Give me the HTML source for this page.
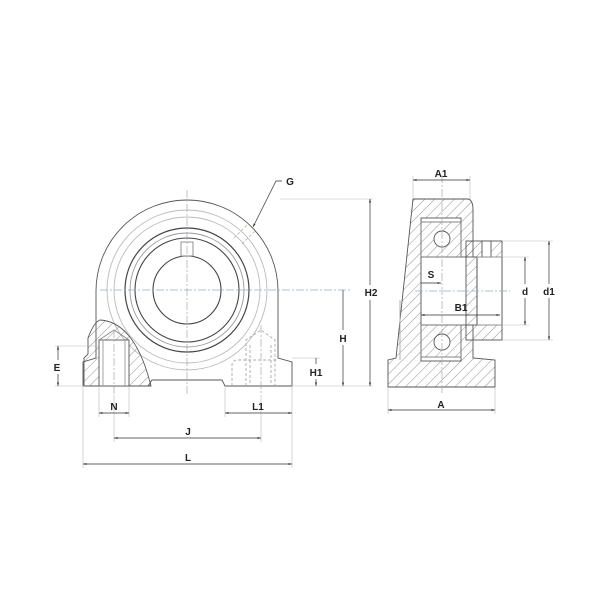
<!DOCTYPE html>
<html><head><meta charset="utf-8"><style>
html,body{margin:0;padding:0;background:#fff;}
svg{display:block;}
text{font-family:"Liberation Sans",sans-serif;font-weight:bold;font-size:10px;fill:#222;text-anchor:middle;}
</style></head><body>
<svg width="600" height="600" viewBox="0 0 600 600" xmlns="http://www.w3.org/2000/svg">
<defs>
<pattern id="h" width="7" height="7" patternUnits="userSpaceOnUse" patternTransform="rotate(45)">
<line x1="0" y1="0" x2="0" y2="7" stroke="#777" stroke-width="0.8"/>
</pattern>
<marker id="a" markerWidth="6" markerHeight="6" refX="5" refY="3" orient="auto-start-reverse"><path d="M0,1.5 L5,3 L0,4.5z" fill="#333"/></marker>
</defs>
<g fill="none" stroke="#555" stroke-width="0.9">
<!-- LEFT VIEW housing -->
<path d="M96,358 L96,291 A91,91 0 0 1 278,291 L278,358 L292,362 L292,386 L225,386 L222,380 L152,380 L148,386 L83,386 L83,362 Z" fill="#fff"/>
<circle cx="187" cy="290" r="80" stroke="#bbb"/>
<circle cx="187" cy="290" r="73" stroke="#bbb"/>
<circle cx="187" cy="290" r="62" stroke="#444" stroke-width="1.2"/>
<circle cx="187" cy="290" r="57" stroke="#999"/>
<circle cx="187" cy="290" r="52" stroke="#444" stroke-width="1.1"/>
<circle cx="187" cy="290" r="34" stroke="#444" stroke-width="1.1"/>
<rect x="181" y="242" width="12" height="14" stroke="#888"/>
<!-- hatched section left -->
<path d="M84,386 L84,358 L88,354 L88,338 Q94,322 100,320 Q135,322 151,386 Z" fill="url(#h)"/>
<rect x="99" y="340" width="30" height="46" fill="#fff"/>
<path d="M99,340 L114,330 L129,340" stroke="#888"/>
<line x1="103" y1="340" x2="103" y2="386" stroke="#999"/>
<line x1="125" y1="340" x2="125" y2="386" stroke="#999"/>
<!-- right bolt dashed -->
<g stroke="#aaa" stroke-dasharray="3,2">
<path d="M246,386 L246,340 L261,330 L275,340 L275,386"/>
<line x1="250" y1="345" x2="250" y2="386"/><line x1="271" y1="345" x2="271" y2="386"/>
<path d="M232,386 L232,365 Q232,360 238,360 L278,360"/>
</g>
<!-- grease fitting -->
<g stroke="#bba" stroke-dasharray="3,2"><line x1="234" y1="238" x2="248" y2="224"/><line x1="242" y1="244" x2="256" y2="230"/></g>
<!-- center lines -->
<g stroke="#9ab" stroke-dasharray="8,2,2,2" stroke-width="0.7">
<line x1="187" y1="190" x2="187" y2="395"/><line x1="100" y1="290" x2="350" y2="290"/>
<line x1="114" y1="330" x2="114" y2="395"/><line x1="261" y1="325" x2="261" y2="395"/>
</g>
<!-- extension lines -->
<g stroke="#bbb" stroke-width="0.6">
<line x1="83" y1="386" x2="83" y2="468"/><line x1="292" y1="386" x2="292" y2="468"/>
<line x1="99" y1="386" x2="99" y2="417"/><line x1="129" y1="386" x2="129" y2="417"/>
<line x1="225" y1="386" x2="225" y2="417"/><line x1="114" y1="395" x2="114" y2="442"/><line x1="261" y1="395" x2="261" y2="442"/>
<line x1="280" y1="199" x2="373" y2="199"/><line x1="292" y1="386" x2="373" y2="386"/>
<line x1="292" y1="358" x2="320" y2="358"/><line x1="55" y1="346" x2="100" y2="346"/><line x1="55" y1="386" x2="84" y2="386"/>
</g>
<g stroke="#333" stroke-width="0.7">
<line x1="370" y1="199" x2="370" y2="285" marker-start="url(#a)"/><line x1="370" y1="300" x2="370" y2="386" marker-end="url(#a)"/>
<line x1="343" y1="290" x2="343" y2="330"/><line x1="343" y1="345" x2="343" y2="386" marker-end="url(#a)"/>
<line x1="316" y1="358" x2="316" y2="364"/><line x1="316" y1="379" x2="316" y2="386" marker-end="url(#a)"/>
<line x1="58" y1="346" x2="58" y2="360" marker-start="url(#a)"/><line x1="58" y1="374" x2="58" y2="386" marker-end="url(#a)"/>
<line x1="99" y1="413" x2="129" y2="413" marker-start="url(#a)" marker-end="url(#a)"/>
<line x1="225" y1="413" x2="292" y2="413" marker-start="url(#a)" marker-end="url(#a)"/>
<line x1="114" y1="438" x2="261" y2="438" marker-start="url(#a)" marker-end="url(#a)"/>
<line x1="83" y1="464" x2="292" y2="464" marker-start="url(#a)" marker-end="url(#a)"/>
<path d="M282,181 L276,181 L253,227" marker-end="url(#a)"/>
</g>

<!-- RIGHT VIEW -->
<path d="M413,199 L468,199 Q473,200 473,210 L473,358 L495,360 L495,387 L388,387 L388,360 L396,358 Z" fill="url(#h)"/>
<rect x="421" y="257" width="56" height="68" fill="#fff"/>
<rect x="466" y="241" width="36" height="99" fill="url(#h)"/>
<rect x="477" y="257" width="25" height="68" fill="#fff"/>
<line x1="477" y1="257" x2="477" y2="325"/>
<rect x="421" y="218" width="40" height="39" fill="#fff"/>
<rect x="421" y="325" width="40" height="36" fill="#fff"/>
<rect x="421" y="222" width="40" height="35" fill="url(#h)" stroke="#777"/>
<rect x="421" y="325" width="40" height="32" fill="url(#h)" stroke="#777"/>
<circle cx="442" cy="239" r="8" fill="#fff"/><circle cx="442" cy="342" r="8" fill="#fff"/>
<rect x="482" y="241" width="9" height="16" fill="#fff"/>
<line x1="400" y1="300" x2="400" y2="360" stroke="#aaa"/>
<g stroke="#9ab" stroke-dasharray="8,2,2,2" stroke-width="0.7">
<line x1="415" y1="291" x2="510" y2="291"/><line x1="442" y1="175" x2="442" y2="395"/>
</g>
<g stroke="#bbb" stroke-width="0.6">
<line x1="413" y1="176" x2="413" y2="199"/><line x1="470" y1="176" x2="470" y2="199"/>
<line x1="388" y1="387" x2="388" y2="414"/><line x1="495" y1="387" x2="495" y2="414"/>
<line x1="502" y1="241" x2="553" y2="241"/><line x1="502" y1="340" x2="553" y2="340"/>
<line x1="477" y1="257" x2="529" y2="257"/><line x1="477" y1="325" x2="529" y2="325"/>
</g>
<g stroke="#333" stroke-width="0.7">
<line x1="413" y1="180" x2="470" y2="180" marker-start="url(#a)" marker-end="url(#a)"/>
<line x1="388" y1="410" x2="495" y2="410" marker-start="url(#a)" marker-end="url(#a)"/>
<line x1="421" y1="283" x2="441" y2="283" marker-end="url(#a)"/>
<line x1="421" y1="315" x2="500" y2="315" marker-start="url(#a)" marker-end="url(#a)"/>
<line x1="525" y1="257" x2="525" y2="284" marker-start="url(#a)"/><line x1="525" y1="298" x2="525" y2="325" marker-end="url(#a)"/>
<line x1="549" y1="241" x2="549" y2="284" marker-start="url(#a)"/><line x1="549" y1="298" x2="549" y2="340" marker-end="url(#a)"/>
</g>
</g>
<text x="290" y="185">G</text>
<text x="371" y="296">H2</text>
<text x="343" y="342">H</text>
<text x="316" y="376">H1</text>
<text x="57" y="371">E</text>
<text x="114" y="410">N</text>
<text x="258" y="410">L1</text>
<text x="188" y="435">J</text>
<text x="188" y="461">L</text>
<text x="441" y="177">A1</text>
<text x="431" y="278">S</text>
<text x="461" y="311">B1</text>
<text x="525" y="295">d</text>
<text x="549" y="295">d1</text>
<text x="441" y="408">A</text>
</svg>
</body></html>
